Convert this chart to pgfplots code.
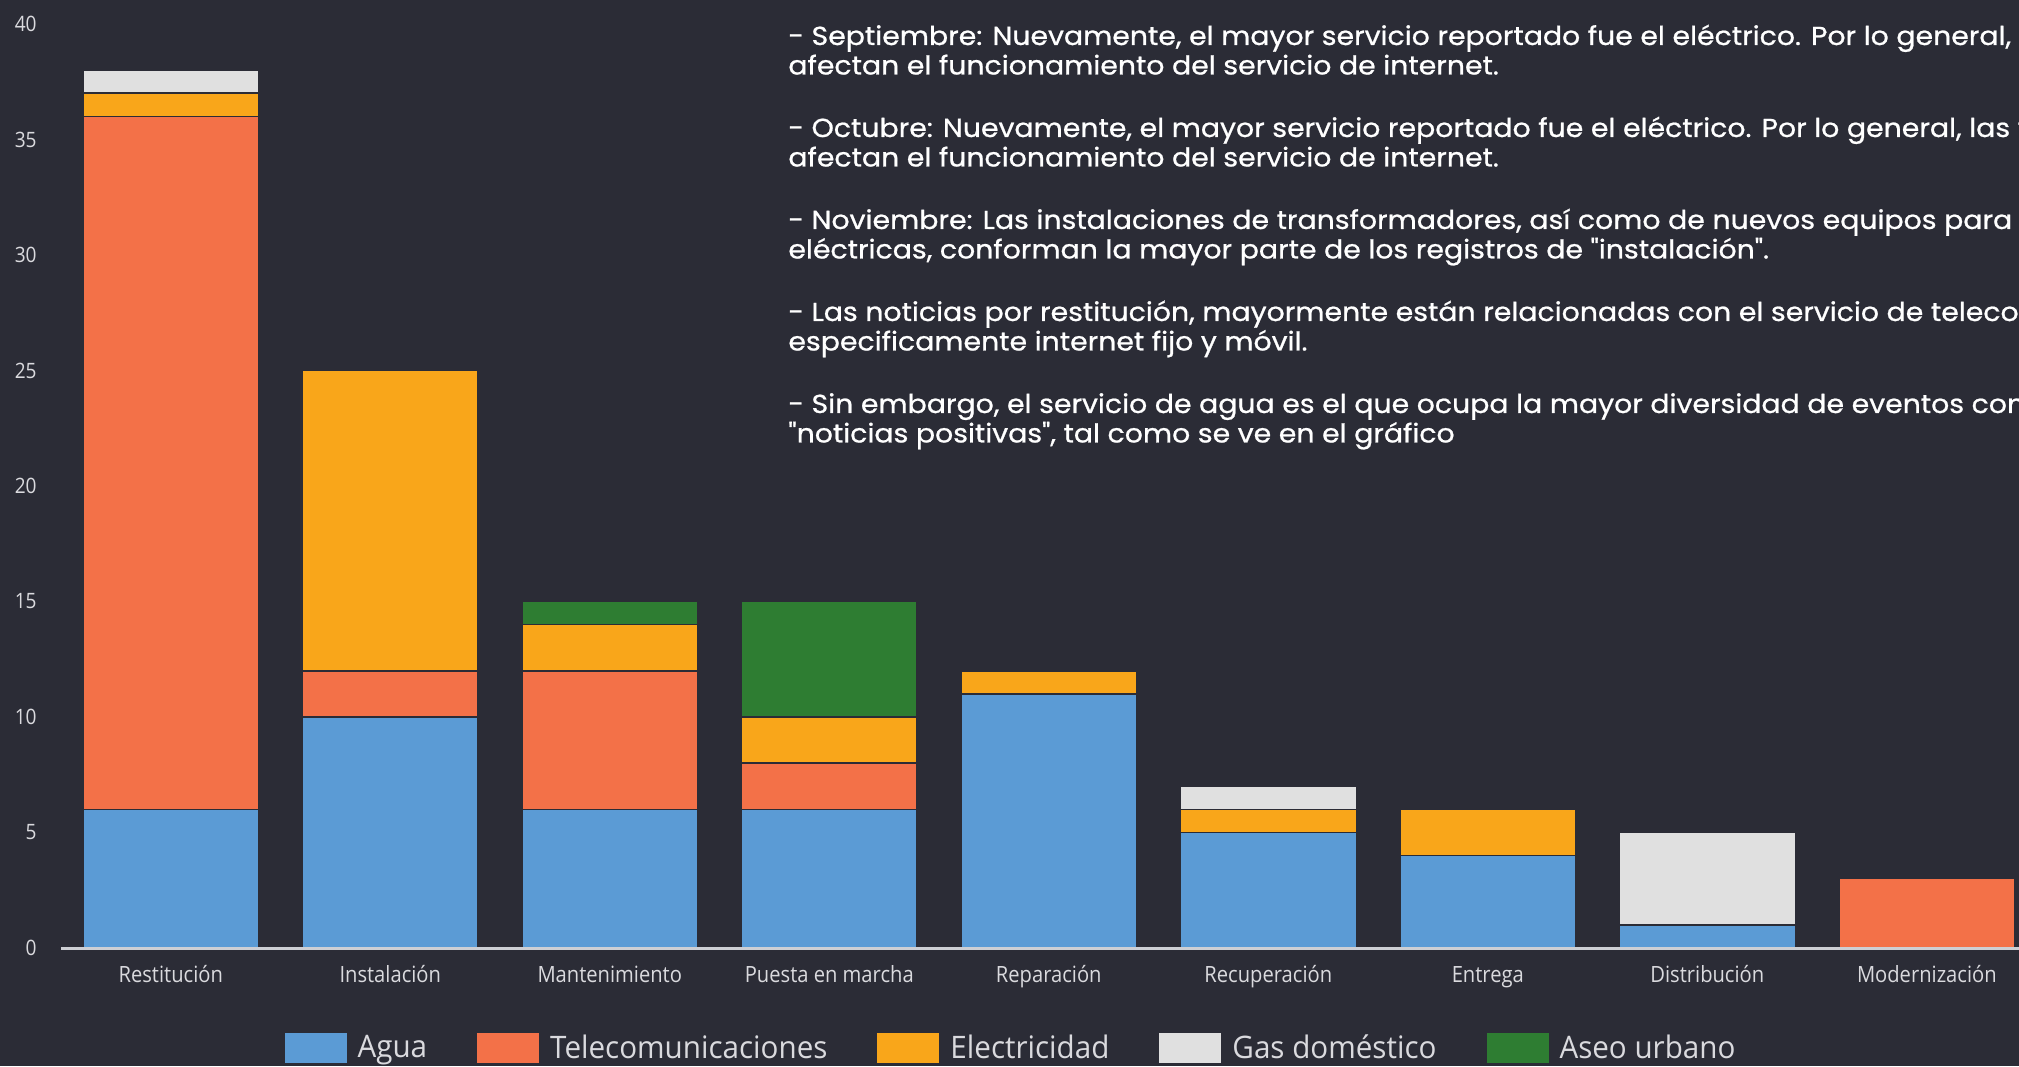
\documentclass[border=0pt]{standalone}
\usepackage{pgfplots}
\pgfplotsset{compat=1.18}
\usepackage{fontspec}
\setmainfont{Open Sans}
\newfontfamily\tickfont{Open Sans}[FakeStretch=0.90]
\newfontfamily\legfont{Open Sans}[FakeStretch=0.955]
\newfontfamily\notefont{Poppins}[FakeStretch=1.09, FakeBold=0.8]
\definecolor{bg}{RGB}{43,44,54}
\definecolor{cAgua}{RGB}{91,155,213}
\definecolor{cTel}{RGB}{243,113,72}
\definecolor{cElec}{RGB}{249,166,26}
\definecolor{cGas}{RGB}{224,224,224}
\definecolor{cAseo}{RGB}{46,125,50}
\definecolor{axgray}{RGB}{205,207,212}
\definecolor{ticktext}{RGB}{218,218,222}
\begin{document}
\begin{tikzpicture}
\fill[bg] (0,0) rectangle (1009.5pt,533pt);
\begin{scope}
\clip (0,0) rectangle (1009.5pt,533pt);
\begin{axis}[
  at={(30.5pt,59pt)}, anchor=south west,
  scale only axis, width=979pt, height=462pt,
  ybar stacked, bar width=88pt,
  xmin=-0.5, xmax=8.42, ymin=0, ymax=40,
  xtick={0,...,8},
  xticklabels={Restitución,Instalación,Mantenimiento,Puesta en marcha,Reparación,Recuperación,Entrega,Distribución,Modernización},
  ytick={0,5,...,40},
  axis x line*=bottom, axis y line*=left,
  y axis line style={draw=none},
  x axis line style={-, draw=axgray, line width=1.5pt},
  major tick length=0pt,
  axis on top,
  /pgf/number format/assume math mode=true,
  yticklabel style={font=\tickfont\fontsize{10.6pt}{12pt}\selectfont, text=ticktext, anchor=east, inner sep=0pt, xshift=-12pt},
  xticklabel style={font=\tickfont\fontsize{11.2pt}{13pt}\selectfont, text=ticktext, anchor=base, inner sep=0pt, yshift=-17pt},
  every axis plot/.append style={draw=bg, line width=0.8pt},
  legend columns=5,
  legend style={at={(0.4847,-0.1082)}, anchor=center, draw=none, fill=none,
    font=\legfont\fontsize{15.5pt}{18pt}\selectfont, text=ticktext,
    inner sep=0pt, nodes={inner sep=0pt}, column sep=5.5pt,
    /tikz/every even column/.append style={column sep=25pt}},
  legend image code/.code={\fill[#1,draw=none] (0pt,-7.5pt) rectangle (31pt,7.5pt);},
]
\addplot[fill=cAgua] coordinates {(0,6) (1,10) (2,6) (3,6) (4,11) (5,5) (6,4) (7,1) (8,0)};
\addplot[fill=cTel] coordinates {(0,30) (1,2) (2,6) (3,2) (4,0) (5,0) (6,0) (7,0) (8,3)};
\addplot[fill=cElec] coordinates {(0,1) (1,13) (2,2) (3,2) (4,1) (5,1) (6,2) (7,0) (8,0)};
\addplot[fill=cGas] coordinates {(0,1) (1,0) (2,0) (3,0) (4,0) (5,1) (6,0) (7,4) (8,0)};
\addplot[fill=cAseo] coordinates {(0,0) (1,0) (2,1) (3,5) (4,0) (5,0) (6,0) (7,0) (8,0)};
\legend{Agua,Telecomunicaciones,Electricidad,Gas doméstico,Aseo urbano}
\end{axis}
\begin{scope}[every node/.style={anchor=base west, inner sep=0pt, text=white, font=\notefont\fontsize{13pt}{15.5pt}\selectfont}]
\node at (394pt,510.5pt) {- Septiembre: Nuevamente, el mayor servicio reportado fue el eléctrico. Por lo general, las fallas eléctricas};
\node at (394pt,495.75pt) {afectan el funcionamiento del servicio de internet.};
\node at (394pt,464.5pt) {- Octubre: Nuevamente, el mayor servicio reportado fue el eléctrico. Por lo general, las fallas eléctricas};
\node at (394pt,449.75pt) {afectan el funcionamiento del servicio de internet.};
\node at (394pt,418.5pt) {- Noviembre: Las instalaciones de transformadores, así como de nuevos equipos para subestaciones};
\node at (394pt,403.75pt) {eléctricas, conforman la mayor parte de los registros de "instalación".};
\node at (394pt,372.5pt) {- Las noticias por restitución, mayormente están relacionadas con el servicio de telecomunicaciones,};
\node at (394pt,357.75pt) {especificamente internet fijo y móvil.};
\node at (394pt,326.5pt) {- Sin embargo, el servicio de agua es el que ocupa la mayor diversidad de eventos considerados como};
\node at (394pt,311.75pt) {"noticias positivas", tal como se ve en el gráfico};
\end{scope}
\end{scope}
\pgfresetboundingbox
\path[use as bounding box] (0,0) rectangle (1009.5pt,533pt);
\end{tikzpicture}
\end{document}
